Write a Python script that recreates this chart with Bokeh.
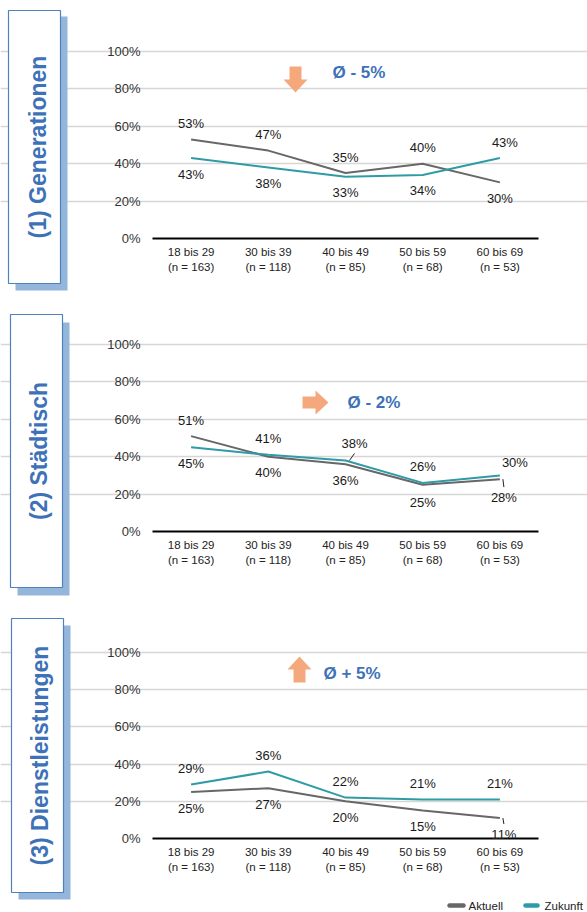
import math
from bokeh.plotting import figure
from bokeh.layouts import column
from bokeh.models import (Range1d, FixedTicker, Label, ColumnDataSource, Grid)
from bokeh.embed import file_html
from bokeh.resources import INLINE
from bokeh.core.properties import value

# ---------------- data ----------------
categories = ["18 bis 29", "30 bis 39", "40 bis 49", "50 bis 59", "60 bis 69"]
sample_sizes = ["(n = 163)", "(n = 118)", "(n = 85)", "(n = 68)", "(n = 53)"]
y_ticks = [0, 20, 40, 60, 80, 100]
y_tick_labels = ["0%", "20%", "40%", "60%", "80%", "100%"]
series_names = ["Aktuell", "Zukunft"]

panel_titles = ["(1) Generationen", "(2) Städtisch", "(3) Dienstleistungen"]
aktuell_generationen = [53, 47, 35, 40, 30]
zukunft_generationen = [43, 38, 33, 34, 43]
aktuell_staedtisch = [51, 40, 36, 25, 28]
zukunft_staedtisch = [45, 41, 38, 26, 30]
aktuell_dienstleistungen = [25, 27, 20, 15, 11]
zukunft_dienstleistungen = [29, 36, 22, 21, 21]
trend_labels = ["Ø - 5%", "Ø - 2%", "Ø + 5%"]
trend_directions = ["down", "right", "up"]

# ---------------- style ----------------
FONT = "Liberation Sans"
C_AKT = "#676767"
C_ZUK = "#2E9BA7"
SERIES_COLORS = [C_AKT, C_ZUK]
C_GRID = "#D6D6D6"
C_ARROW = "#F4A87C"
C_BLUE = "#3E72B8"
C_SHADOW = "#93B6DA"
C_BOXLINE = "#4F81BD"

W = 587
PLOT_LEFT = 152      # pixel where the category axis starts
PLOT_W = 386         # pixel width of the category axis

# per panel layout (canvas pixels, y measured down from panel top)
layouts = [
    dict(h=300, top=51, fh=187,
         box=(8, 60, 10, 283), shadow=(15, 67, 16, 290), title_x=37,
         arrow=(295, 79), text=(332, 72)),
    dict(h=308, top=44, fh=187,
         box=(10, 62, 14, 287), shadow=(17, 69, 22, 295), title_x=38.5,
         arrow=(315, 102), text=(347, 102)),
    dict(h=304, top=44, fh=186,
         box=(11, 63, 10, 284), shadow=(18, 70, 17, 291), title_x=39,
         arrow=(299, 61), text=(323, 65)),
]
# (panel, series, index) -> pixel nudge of the data label
label_nudges = {(0, 1, 4): (5, 0), (1, 1, 2): (9, -1), (1, 1, 4): (15, 3),
                (1, 0, 4): (4, 2), (1, 0, 3): (0, 2), (2, 0, 4): (4, 0)}
# (panel, series, index) -> leader line, pixel offsets from the point
leaders = {(1, 1, 2): (4, 0, 9, -7), (1, 0, 4): (3, 0, 4, 8),
           (2, 0, 4): (3, 0, 4, 6)}
# legend: panel-3 canvas pixels
legend_swatches = [(449, 463), (525, 537)]
legend_text_x = [468, 544]
legend_y = 905

panels = [
    (aktuell_generationen, zukunft_generationen),
    (aktuell_staedtisch, zukunft_staedtisch),
    (aktuell_dienstleistungen, zukunft_dienstleistungen),
]

xs = [i + 0.5 for i in range(len(categories))]
x_labels = [f"{c}\n{n}" for c, n in zip(categories, sample_sizes)]


def arrow_polygon(cx, cy, direction, L=26, hw=24, sw=12, hl=13):
    local = [(-L / 2, -sw / 2), (L / 2 - hl, -sw / 2), (L / 2 - hl, -hw / 2),
             (L / 2, 0), (L / 2 - hl, hw / 2), (L / 2 - hl, sw / 2),
             (-L / 2, sw / 2)]
    pts = []
    for u, v in local:
        if direction == "down":
            ddx, ddy = v, u
        elif direction == "up":
            ddx, ddy = v, -u
        else:
            ddx, ddy = u, v
        pts.append((cx + ddx, cy + ddy))
    return pts


figs = []
panel_top = 0
for k, (series, lay) in enumerate(zip(panels, layouts)):
    H = lay["h"]
    ppx = PLOT_W / len(categories)
    ppy = lay["fh"] / 100
    base = lay["top"] + lay["fh"]

    def dx(px):
        return (px - PLOT_LEFT) / ppx

    def dy(py):
        return (base - py) / ppy

    p = figure(width=W, height=H,
               x_range=Range1d(dx(0), dx(W)), y_range=Range1d(dy(H), dy(0)),
               x_axis_type=None, y_axis_type=None,
               toolbar_location=None, output_backend="svg",
               min_border=0, min_border_left=0, min_border_right=0,
               min_border_top=0, min_border_bottom=0)
    p.outline_line_color = None

    # grid lines (only across the category span)
    p.add_layout(Grid(dimension=1, ticker=FixedTicker(ticks=y_ticks[1:]),
                      bounds=(0, len(categories)),
                      grid_line_color=C_GRID, grid_line_width=1.5))
    # base (0 %) axis line
    p.segment(x0=[0], y0=[y_ticks[0]], x1=[len(categories)], y1=[y_ticks[0]],
              line_color="black", line_width=2)

    # y tick labels
    p.text(x=[0] * len(y_ticks), y=y_ticks, text=y_tick_labels,
           x_offset=-12, text_align="right", text_baseline="middle",
           text_font=value(FONT), text_font_size="13px",
           text_color="#333333")
    # category labels
    p.text(x=xs, y=[0] * len(xs), text=x_labels, y_offset=7,
           text_align="center", text_baseline="top", text_line_height=1.25,
           text_font=value(FONT), text_font_size="11.5px",
           text_color="#222222")

    # side label box with shadow
    sx0, sx1, sy0, sy1 = lay["shadow"]
    p.quad(left=dx(sx0), right=dx(sx1), top=dy(sy0), bottom=dy(sy1),
           fill_color=C_SHADOW, line_color=None)
    bx0, bx1, by0, by1 = lay["box"]
    p.quad(left=dx(bx0), right=dx(bx1), top=dy(by0), bottom=dy(by1),
           fill_color="white", line_color=C_BOXLINE, line_width=1.2)
    p.add_layout(Label(x=dx(lay["title_x"]), y=dy((by0 + by1) / 2),
                       text=panel_titles[k], angle=math.pi / 2,
                       text_align="center", text_baseline="middle",
                       text_font=FONT, text_font_size="23px",
                       text_font_style="bold", text_color=C_BLUE))

    # series lines
    for vals, col in zip(series, SERIES_COLORS):
        p.line(xs, vals, line_color=col, line_width=2)

    # data labels
    akt, zuk = series
    lx, ly, lt, lxo, lyo = [], [], [], [], []
    for i, (x, a, z) in enumerate(zip(xs, akt, zuk)):
        a_above = a >= z
        for s, (v, above) in enumerate(((a, a_above), (z, not a_above))):
            nx, ny = label_nudges.get((k, s, i), (0, 0))
            lx.append(x)
            ly.append(v)
            lt.append(f"{v}%")
            lxo.append(nx)
            lyo.append((-16 if above else 16) + ny)
            if (k, s, i) in leaders:
                ox0, oy0, ox1, oy1 = leaders[(k, s, i)]
                p.segment(x0=[x + ox0 / ppx], y0=[v - oy0 / ppy],
                          x1=[x + ox1 / ppx], y1=[v - oy1 / ppy],
                          line_color="#222222", line_width=1)
    src = ColumnDataSource(dict(x=lx, y=ly, text=lt, xoff=lxo, yoff=lyo))
    p.text(x="x", y="y", text="text", x_offset="xoff", y_offset="yoff",
           source=src, text_align="center", text_baseline="middle",
           text_font=value(FONT), text_font_size="13px",
           text_color="#1A1A1A")

    # trend arrow and text
    pts = arrow_polygon(lay["arrow"][0], lay["arrow"][1], trend_directions[k])
    p.patch([dx(a) for a, b in pts], [dy(b) for a, b in pts],
            fill_color=C_ARROW, line_color=None)
    p.add_layout(Label(x=dx(lay["text"][0]), y=dy(lay["text"][1]),
                       text=trend_labels[k], text_align="left",
                       text_baseline="middle", text_font=FONT,
                       text_font_size="17px", text_font_style="bold",
                       text_color=C_BLUE))

    # legend (bottom of the last panel)
    if k == len(panels) - 1:
        ly_leg = legend_y - panel_top
        for (x0, x1), tx, name, col in zip(legend_swatches, legend_text_x,
                                           series_names, SERIES_COLORS):
            p.segment(x0=[dx(x0)], y0=[dy(ly_leg)], x1=[dx(x1)],
                      y1=[dy(ly_leg)], line_color=col, line_width=4.5,
                      line_cap="round")
            p.text(x=[dx(tx)], y=[dy(ly_leg)], text=[name],
                   text_align="left", text_baseline="middle",
                   text_font=value(FONT), text_font_size="11.5px",
                   text_color="#222222")

    figs.append(p)
    panel_top += H

layout = column(*figs, spacing=0)
open("out.html", "w").write(file_html(layout, INLINE))
